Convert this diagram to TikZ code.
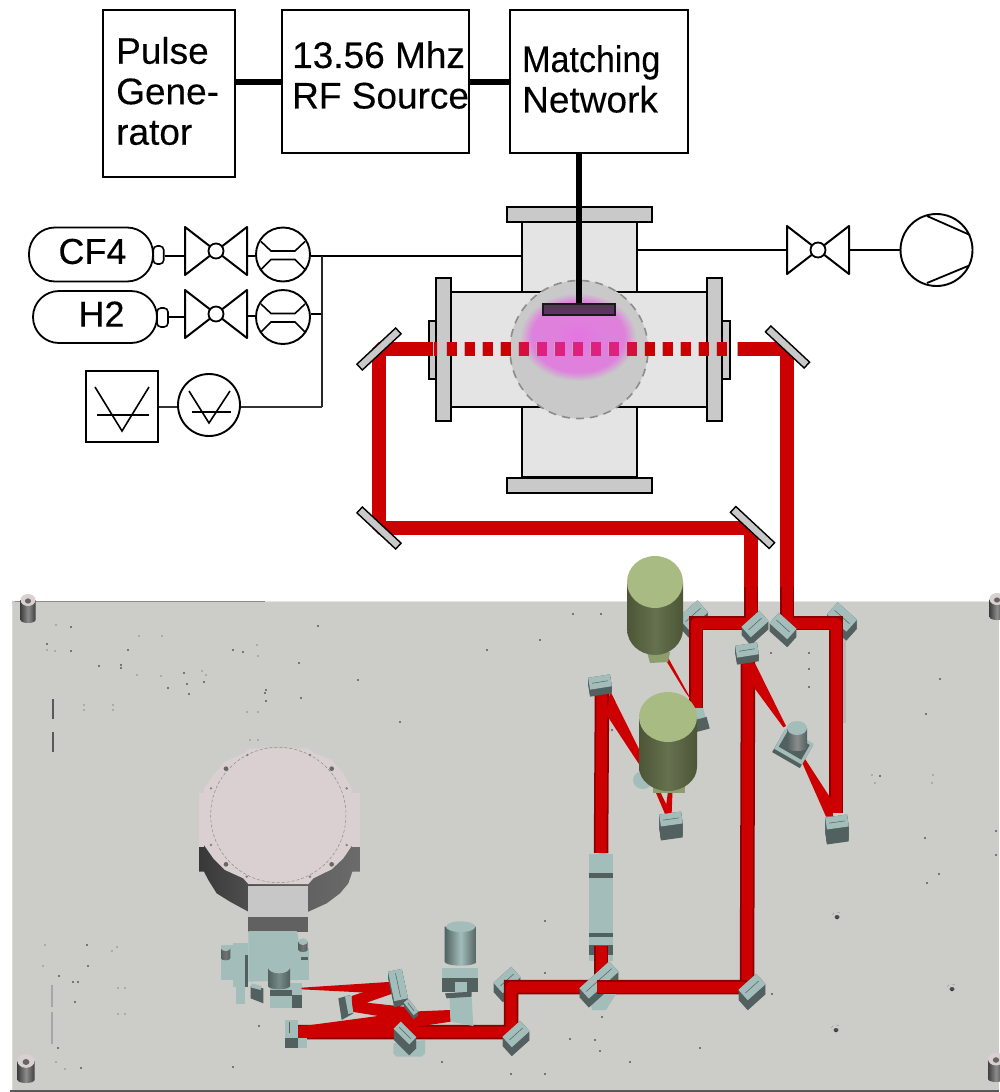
\documentclass[tikz,border=0pt]{standalone}
\usepackage{fontspec}
\usepackage{graphicx}
\setmainfont[FakeBold=0.25]{Liberation Sans}
\usetikzlibrary{calc}
\definecolor{beamred}{HTML}{CC0000}
\definecolor{beamdark}{HTML}{8A0000}
\definecolor{beampink}{HTML}{E0207F}
\definecolor{beamrose}{HTML}{D60F3C}
\definecolor{plate}{HTML}{CCCDC9}
\definecolor{chamberfill}{HTML}{E4E4E4}
\definecolor{flangefill}{HTML}{C9C9C9}
\definecolor{optlight}{HTML}{A3BDBB}
\definecolor{optdark}{HTML}{52615F}
\definecolor{pinktop}{HTML}{DAD0D1}
\definecolor{oliveT}{HTML}{A8BB82}
\definecolor{oliveD}{HTML}{4C5636}
\definecolor{oliveM}{HTML}{667150}
\definecolor{plasmaA}{HTML}{E574E2}
\definecolor{plasmaB}{HTML}{DF80DD}
\definecolor{elecA}{HTML}{4A3A4A}
\definecolor{elecB}{HTML}{6E2C78}
\pgfdeclareradialshading{plasmaglow}{\pgfpoint{0bp}{0bp}}{color(0bp)=(plasmaA);color(10bp)=(plasmaB);color(20bp)=(plasmaB);color(25bp)=(flangefill);color(50bp)=(flangefill)}
\tikzset{
  ln/.style={draw=black,line width=2pt,line join=round},
  wire/.style={draw=black,line width=2pt},
  thickwire/.style={draw=black,line width=6pt},
  labelbox/.style={draw=black,line width=1.7pt,fill=white,inner sep=0pt},
  labeltext/.style={inner sep=0pt,align=left,anchor=west,font=\fontsize{37}{40.5}\selectfont},
  gastext/.style={font=\fontsize{36}{38}\selectfont,inner sep=0pt},
  metalpart/.style={draw=black,line width=1.5pt,fill=chamberfill},
  flange/.style={draw=black,line width=1.8pt,fill=flangefill},
  mirrorbar/.style={draw=black,line width=1.4pt,fill=flangefill,minimum width=53pt,minimum height=8pt,inner sep=0pt},
  labbeam/.style={draw=beamred,line width=14pt,line join=bevel},
  tablebeam/.style={preaction={draw=beamdark,line width=14.5pt},draw=beamred,line width=11pt,line join=round},
  wedge/.style={fill=beamred},
  speck/.style={fill=black!65,opacity=.75},
  faint/.style={fill=black!45,opacity=.5},
  zz/.style={x=0.33333pt,y=-0.33333pt},
}
\newcommand{\valve}[4]{% name, x, y, half height
  \draw[ln,fill=white] (#2-31,#3-#4) -- (#2+31,#3+#4) -- (#2+31,#3-#4) -- (#2-31,#3+#4) -- cycle;
  \node[circle,draw=black,line width=1.8pt,fill=white,minimum size=15pt,inner sep=0pt] (#1) at (#2,#3) {};
}
\newcommand{\gauge}[3]{% name, x, y
  \node[circle,draw=black,line width=1.9pt,fill=white,minimum size=54pt,inner sep=0pt] (#1) at (#2,#3) {};
  \draw[line width=1.6pt] (#2-22,#3-13) -- (#2-12,#3-3.5) -- (#2+12,#3-3.5) -- (#2+22,#3-13);
  \draw[line width=1.6pt] (#2-22,#3+15) -- (#2-12,#3+5) -- (#2+12,#3+5) -- (#2+22,#3+15);
}
\newcommand{\mblock}[6]{% x,y,rot,halfw,halfh,depth
  \foreach \dd in {0,1,...,#6}{
    \begin{scope}[shift={(0,\dd)}]\fill[optdark,rotate around={#3:(#1,#2)}] (#1-#4,#2-#5) rectangle (#1+#4,#2+#5);\end{scope}}
  \fill[optlight,rotate around={#3:(#1,#2)}] (#1-#4,#2-#5) rectangle (#1+#4,#2+#5);
  \draw[optdark,line width=.5pt,rotate around={#3:(#1,#2)}] (#1-#4+3,#2) -- (#1+#4-3,#2);
}
\newcommand{\cyl}[7]{% cx, ytop, ybot, rx, ry, dark, mid
  \shade[left color=#6,right color=#6,middle color=#7]
   (#1-#4,#2) -- (#1-#4,#3) .. controls (#1-#4,#3+.55*#5) and (#1-.55*#4,#3+#5) .. (#1,#3+#5)
   .. controls (#1+.55*#4,#3+#5) and (#1+#4,#3+.55*#5) .. (#1+#4,#3) -- (#1+#4,#2) -- cycle;
}
\newcommand{\post}[4]{% x, ytop, ybot, r
  \cyl{#1}{#2}{#3}{#4}{3}{black!75}{black!45}
  \fill[pinktop] (#1,#2) ellipse[x radius=#4,y radius=#4*.8];
  \fill[black!60] (#1,#2+1) ellipse[x radius=#4*.4,y radius=#4*.35];
}
\newcommand{\screw}[2]{%
  \fill[black!70] (#1,#2) ellipse[x radius=2.5,y radius=2];
  \fill[blue!55!black] (#1,#2+1.7) circle[radius=.7];
  \draw[black!45,line width=.3pt,dashed] (#1-5,#2-2) .. controls (#1-3,#2-6) and (#1+3,#2-6) .. (#1+5,#2-2);
}
\begin{document}
\begin{tikzpicture}[x=1pt,y=-1pt]
\useasboundingbox (0,0) rectangle (999,1092);
%% ---------- optical table ----------
\fill[plate] (12,601) rectangle (999,1092);
\fill[black!15] (11.5,604) rectangle (13,1090);
\fill[black!45] (15,600.5) rectangle (265,602);
\fill[black!10] (265,600.5) rectangle (999,601.5);
\fill[black!65] (10,1090) rectangle (999,1092);
\post{28}{600}{620}{7.5}
\post{26}{1061}{1080}{8.5}
\post{997}{599}{617}{7.5}
\post{996}{1059}{1079}{8}
\fill[black!65] (52.2,699) rectangle (53.8,719);
\fill[black!65] (52.2,732) rectangle (53.8,752);
\fill[black!35] (51,985) rectangle (52.5,1007);
\fill[black!35] (51,1012) rectangle (52.5,1044);
\fill[black!28] (843,635) rectangle (845.5,723);
\foreach \sx/\sy in {71/627,71/651,47/644,128/650,99/666,121/665,121/668,184/673,187/684,204/682,168/688,189/694,233/650,243/652,299/663,318/626,265/693,266/690,301/698,266/701,59/976,73/982,78/982,75/1002,58/1048,81/1068,87/945,88/966,940/679,926/714,880/776,925/838,939/874,927/883,996/831,996/855,545/921,545/973,259/1026,233/1067,511/1074,545/1074,570/1039,595/1040,600/1051,602/1017,772/994,573/614,601/614,771/653,809/653,809/669,809/687,358/680,400/722,487/650,540/640,612/730,700/1048,630/1062,442/1062}
  {\fill[speck] (\sx-1,\sy-1) rectangle (\sx+1.2,\sy+1);}
\foreach \sx/\sy in {56/625,47/650,55/651,139/636,162/636,137/675,161/676,202/671,206/675,257/645,258/656,84/705,113/705,84/710,113/710,247/712,258/712,45/945,112/951,117/947,43/966,118/988,125/988,118/1014,125/1014,56/1062,65/1069,872/775,875/783,933/775,932/783,250/740,258/740}
  {\fill[faint] (\sx-.8,\sy-.7) rectangle (\sx+.8,\sy+.7);}
\screw{837}{917}
\screw{952}{989}
\screw{836}{1030}
%% ---------- vacuum chamber on the table ----------
\begin{scope}[shift={(180,730)},zz]
  \shade[left color=black!78,right color=black!58,middle color=black!64]
    (57,350) -- (57,425) -- (72,425) -- (85,450) -- (110,490) -- (150,515) -- (205,545) -- (385,545) -- (440,520) -- (480,490) -- (505,460) -- (517,425) -- (540,425) -- (540,350) -- (517,300) -- (72,300) -- cycle;
  \fill[pinktop] (57,190) -- (72,190) -- (72,352) -- (57,352) -- cycle;
  \fill[pinktop] (517,188) -- (540,188) -- (540,350) -- (517,350) -- cycle;
  \fill[pinktop] (210,55) -- (385,55) -- (400,68) -- (455,90) -- (490,130) -- (515,175) -- (517,345) -- (490,385) -- (455,418) -- (400,445) -- (385,462) -- (205,462) -- (190,445) -- (135,420) -- (100,385) -- (72,345) -- (72,175) -- (100,135) -- (135,95) -- (195,68) -- cycle;
  \draw[black!45,line width=.5pt,densely dashed] (295,255) circle[radius=203];
  \foreach \bx/\by in {138/116,455/116,138/403,455/403}{\fill[black!60] (\bx,\by) circle[radius=7];}
  \foreach \bx/\by in {93/175,500/175,93/345,500/345,202/75,390/75,200/440,390/440}{\fill[black!50] (\bx,\by) circle[radius=4];}
  \fill[black!22] (205,467) rectangle (385,562);
  \fill[black!62] (205,562) rectangle (385,605);
\end{scope}
%% ---------- parts below the beams, left group ----------
\begin{scope}[shift={(180,880)},zz]
  \fill[optlight] (205,153) -- (350,153) -- (355,170) -- (355,300) -- (205,305) -- cycle;
  \fill[optlight] (122,195) -- (160,195) -- (160,300) -- (122,300) -- cycle;
  \fill[optlight] (160,190) rectangle (203,320);
  \fill[optdark] (195,225) rectangle (205,320);
  \fill[optlight] (168,300) rectangle (195,372);
  \fill[optlight] (352,205) rectangle (388,300);
  \fill[optdark] (362,232) rectangle (385,240);
  \fill[optlight] (270,310) rectangle (365,385);
  \fill[optdark] (335,345) rectangle (365,385);
  \fill[optdark] (270,330) rectangle (335,348);
  \fill[optdark] (212,318) -- (250,325) -- (250,370) -- (212,355) -- cycle;
  \fill[optlight] (215,310) -- (245,318) -- (242,330) -- (212,322) -- cycle;
  \cyl{137}{205}{235}{14}{6}{optdark}{black!55}
  \fill[optlight] (137,205) ellipse[x radius=14,y radius=8];
  \cyl{369}{185}{210}{14}{6}{optdark}{black!55}
  \fill[optlight] (369,185) ellipse[x radius=14,y radius=10];
  \cyl{297}{265}{318}{33}{10}{optdark}{optlight!45!optdark}
  \fill[optlight] (297,262) ellipse[x radius=33,y radius=18];
\end{scope}
%% ---------- table beams ----------
\coordinate (tL) at (751,587);
\coordinate (tR) at (787,587);
\coordinate (cA) at (751,623);
\coordinate (cB) at (696,623);
\coordinate (cC) at (696,708);
\coordinate (cD) at (787,623);
\coordinate (cE) at (836,623);
\coordinate (cF) at (836,813);
\coordinate (cG) at (748,657);
\coordinate (cH) at (747,987);
\coordinate (cI) at (511,987);
\coordinate (cJ) at (511,1032);
\coordinate (cK) at (298,1032);
\coordinate (cL) at (602,690);
\coordinate (cM) at (601,853);
\coordinate (cN) at (601,946);
\coordinate (cO) at (601,985);
\mblock{693}{615}{42}{13}{8}{8}
\mblock{842}{617}{-42}{13}{8}{9}
\mblock{507}{980}{42}{12}{7}{9}
\fill[optlight,rotate around={15:(695,720)}] (691,707) rectangle (706,720);
\fill[optdark,rotate around={15:(695,720)}] (691,720) rectangle (707,732);
\draw[tablebeam] (tL) -- (cA) -- (cB) -- (cC);
\draw[tablebeam] (tR) -- (cD) -- (cE) -- (cF);
\draw[tablebeam] (cG) -- (cH) -- (cI) -- (cJ) -- (cK);
\draw[tablebeam] (cL) -- (cM);
\begin{scope}[shift={(570,540)},zz]
  \fill[wedge] (692,658) -- (702,652) -- (782,775) -- (790,830) -- (768,830) -- cycle;
  \fill[wedge] (548,370) -- (555,370) -- (648,558) -- (640,562) -- (550,440) -- cycle;
  \fill[wedge] (278,345) -- (290,345) -- (370,490) -- (345,455) -- cycle;
  \fill[wedge] (120,452) -- (305,825) -- (285,822) -- (250,740) -- (212,680) -- (110,525) -- cycle;
  \fill[wedge] (296,740) -- (308,740) -- (305,820) -- (285,820) -- cycle;
\end{scope}
\begin{scope}[shift={(180,880)},zz]
  \fill[wedge] (365,323) -- (640,305) -- (640,342) -- (365,328) -- cycle;
  \fill[wedge] (515,348) -- (635,308) -- (645,338) -- (560,368) -- (690,382) -- (700,407) -- (620,412) -- (515,395) -- cycle;
  \fill[wedge] (355,440) -- (690,395) -- (810,390) -- (812,425) -- (700,442) -- (355,478) -- cycle;
\end{scope}
%% ---------- long optical component ----------
\fill[optlight] (589,854) rectangle (613,961);
\fill[optdark] (589,873) rectangle (613,878);
\fill[optdark] (589,933) rectangle (613,937);
\fill[optdark] (589,945) rectangle (613,955);
\fill[optlight] (591,955) rectangle (611,960);
\draw[tablebeam] (cN) -- (cO);
%% ---------- mirror blocks ----------
\mblock{755}{624}{42}{12}{7}{8}
\mblock{783}{626}{-42}{12}{7}{8}
\mblock{747}{650}{9}{11}{6}{7}
\mblock{600}{682}{9}{11}{6}{7}
\mblock{671}{819}{8}{11}{6}{14}
\mblock{837}{822}{8}{11}{6}{15}
\mblock{516}{1034}{42}{12}{7}{9}
\fill[optlight] (590,1000) -- (620,988) -- (606,1010) -- (592,1010) -- cycle;
\mblock{599}{980}{42}{20}{7}{9}
\draw[tablebeam] (cH) -- (597,987);
\mblock{752}{987}{42}{12}{7}{10}
\begin{scope}[shift={(180,880)},zz]
  \fill[optdark] (315,420) rectangle (355,505);
  \fill[optlight] (315,420) rectangle (355,475);
  \fill[optlight] (355,475) rectangle (380,505);
  \fill[optdark] (326,425) rectangle (330,460);
  \fill[optlight] (640,490) -- (735,480) -- (735,520) -- (725,530) -- (650,530) -- (640,520) -- cycle;
  \fill[optdark] (475,355) -- (510,345) -- (520,400) -- (485,420) -- cycle;
  \fill[optlight] (495,350) -- (512,345) -- (520,398) -- (505,402) -- cycle;
\end{scope}
\mblock{398}{985}{-78}{15}{7}{6}
\mblock{411}{1007}{-52}{8}{3}{4}
\mblock{405}{1033}{-45}{11}{5}{11}
%% ---------- tall unit ----------
\begin{scope}[shift={(180,880)},zz]
  \cyl{842}{140}{245}{48}{12}{optdark}{optlight}
  \fill[optlight] (842,140) ellipse[x radius=44,y radius=16];
  \fill[optlight] (785,265) rectangle (895,295);
  \fill[optdark] (785,295) rectangle (895,335);
  \fill[optlight] (825,305) rectangle (860,345);
  \fill[optlight] (808,340) -- (875,352) -- (880,438) -- (812,425) -- cycle;
  \fill[optdark] (795,340) -- (875,335) -- (875,350) -- (800,355) -- cycle;
\end{scope}
%% ---------- unit on the right path ----------
\begin{scope}[shift={(793,748)},rotate=-30]
  \fill[optdark] (-16,-12) rectangle (16,14);
  \fill[optlight] (-16,-14) rectangle (16,10);
  \fill[optdark] (-13,-11) rectangle (13,6);
\end{scope}
\cyl{797}{728}{748}{10}{3}{optdark}{black!45}
\fill[optlight] (797,728) ellipse[x radius=10,y radius=7];
%% ---------- olive cylinders ----------
\fill[oliveT!70!oliveD] (647,652) -- (670,652) -- (668,662) -- (650,663) -- cycle;
\fill[optlight] (643,780) ellipse[x radius=10,y radius=9];
\cyl{655}{582}{629}{28}{26}{oliveD}{oliveM}
\fill[oliveT] (655,582) ellipse[x radius=28,y radius=26];
\fill[oliveT!70!oliveD] (653,785) rectangle (685,793);
\cyl{668}{717}{767}{29}{24}{oliveD}{oliveM}
\fill[oliveT] (668,717) ellipse[x radius=29,y radius=25];
%% ---------- block diagram ----------
\node[labelbox,minimum width=132pt,minimum height=167pt] (pulse) at (169,93.5) {};
\node[labelbox,minimum width=187pt,minimum height=143pt] (rfsrc) at (375.5,81.5) {};
\node[labelbox,minimum width=178pt,minimum height=143pt] (match) at (599,81.5) {};
\node[labeltext] (pulsetext) at (116,91) {Pulse\\Gene-\\rator};
\node[labeltext] (rftext) at (292,75) {13.56 Mhz\\RF Source};
\node[labeltext] (matchtext) at (522,79) {\scalebox{.92}[1]{Matching}\\Network};
\draw[thickwire] (pulse.east |- rfsrc.west) -- (rfsrc.west);
\draw[thickwire] (rfsrc.east) -- (match.west);
%% ---------- plasma chamber ----------
\fill[metalpart] (522,222) rectangle (637,477);
\fill[metalpart] (451,292) rectangle (707,407);
\fill[chamberfill] (523,293) rectangle (636,406);
\node[flange,minimum width=145pt,minimum height=15pt,inner sep=0pt] (ftop) at (579.5,214.5) {};
\node[flange,minimum width=145pt,minimum height=15pt,inner sep=0pt] (fbot) at (579.5,485.5) {};
\fill[flangefill,draw=black,line width=1.2pt] (429,321) rectangle (436,379);
\fill[flangefill,draw=black,line width=1.2pt] (722,321) rectangle (730,379);
\node[flange,minimum width=15pt,minimum height=143pt,inner sep=0pt] (fleft) at (443.5,349.5) {};
\node[flange,minimum width=15pt,minimum height=143pt,inner sep=0pt] (fright) at (714.5,349.5) {};
\node[circle,draw=black!45,line width=1.6pt,dash pattern=on 8pt off 6pt,fill=flangefill,minimum size=138pt,inner sep=0pt] (window) at (579,349.5) {};
\shade[shading=plasmaglow] (578,337) ellipse[x radius=58,y radius=44];
\node[draw=black!90,line width=1.2pt,top color=elecA,bottom color=elecB,minimum width=72pt,minimum height=11pt,inner sep=0pt] (electrode) at (579,309.5) {};
\draw[draw=black,line width=6.5pt] (match.south -| window.north) -- (electrode.north);
%% ---------- lab beam ----------
\coordinate (m1) at (379,349);
\coordinate (m2) at (787,349);
\coordinate (m3) at (379,528);
\coordinate (m4) at (751,528);
\draw[labbeam] (433,349) -- (m1) -- (m3) -- (m4) -- (tL);
\draw[labbeam] (738,349) -- (m2) -- (tR);
\foreach \k/\dcol in {0/beamred,1/beamred,2/beamred,3/beamred,4/beamrose,5/beampink,6/beampink,7/beampink,8/beampink,9/beampink,10/beamrose,11/beamred,12/beamred,13/beamred,14/beamred,15/beamred}{
  \pgfmathsetmacro{\dx}{447+18*\k}
  \fill[black!30] (\dx-.8,342) rectangle (\dx+10.2,356);
  \fill[\dcol] (\dx,342) rectangle (\dx+9.5,356);
}
\fill[black!30] (437,342) rectangle (437.8,356);
\fill[beamred] (433.5,342) rectangle (437,356);
\fill[black!30] (737.2,342) rectangle (738,356);
\node[mirrorbar,rotate=43] (mirA) at (m1) {};
\node[mirrorbar,rotate=-43] (mirB) at (787.5,347) {};
\node[mirrorbar,rotate=-43] (mirC) at (379,528) {};
\node[mirrorbar,rotate=-43] (mirD) at (752.5,527.5) {};
%% ---------- gas lines ----------
\node[draw=black,line width=1.8pt,rounded corners=26pt,fill=white,minimum width=124pt,minimum height=54pt,inner sep=0pt] (cfbottle) at (91,254.5) {};
\node[gastext] (cftext) at (92.5,251.5) {CF4};
\node[draw=black,line width=1.6pt,rounded corners=4pt,fill=white,minimum width=10.5pt,minimum height=18pt,inner sep=0pt] (cfneck) at (158.5,255) {};
\node[draw=black,line width=1.8pt,rounded corners=26pt,fill=white,minimum width=124pt,minimum height=52pt,inner sep=0pt] (hbottle) at (95,317) {};
\node[gastext] (htext) at (101.5,314) {H2};
\node[draw=black,line width=1.6pt,rounded corners=4pt,fill=white,minimum width=11pt,minimum height=19pt,inner sep=0pt] (hneck) at (162.5,317.5) {};
\valve{vcf}{216}{251}{24}
\valve{vh}{216}{314}{24}
\gauge{gcf}{283}{254.5}
\gauge{gh}{283}{317}
\coordinate (vcfL) at (185,256);
\coordinate (vcfR) at (247,256);
\coordinate (vhL) at (185,317);
\coordinate (vhR) at (247,316);
\coordinate (chamberL) at (522,256);
\coordinate (busTop) at (322,256);
\coordinate (busH) at (322,314);
\coordinate (busBot) at (322,406.5);
\draw[wire] (cfneck.east |- vcfL) -- (vcfL);
\draw[wire] (hneck.east |- vhL) -- (vhL);
\draw[wire] (vcfR) -- (gcf.west |- vcfR);
\draw[wire] (vhR) -- (gh.west |- vhR);
\draw[wire] (gcf.east |- chamberL) -- (chamberL);
\draw[wire] (gh.east |- busH) -- (busH);
\draw[wire,draw=black!85] (busTop) -- (busBot);
\node[draw=black,line width=2pt,fill=white,minimum width=72pt,minimum height=71pt,inner sep=0pt] (vbox) at (122,406.5) {};
\node[circle,draw=black,line width=1.9pt,fill=white,minimum size=62pt,inner sep=0pt] (vgauge) at (209,405) {};
\draw[wire,draw=black!80] (vbox.east |- busBot) -- (vgauge.west |- busBot);
\draw[wire,draw=black!80] (vgauge.east |- busBot) -- (busBot);
\draw[line width=1.6pt] (95,387) -- (122,431) -- (149,387);
\draw[line width=1.6pt] (97,415) -- (149,415);
\draw[line width=1.6pt] (189,391) -- (209,423) -- (230,391);
\draw[line width=1.6pt] (192,412) -- (231,412);
%% ---------- pump line ----------
\valve{vpump}{818}{250}{24}
\node[circle,draw=black,line width=1.9pt,fill=white,minimum size=72pt,inner sep=0pt] (pump) at (936.5,250) {};
\coordinate (chamberR) at (637,250);
\coordinate (vpL) at (787,250);
\coordinate (vpR) at (849,250);
\draw[draw=black,line width=1.5pt] (chamberR) -- (vpL);
\draw[draw=black,line width=1.5pt] (vpR) -- (pump.west);
\draw[line width=1.8pt] (927,216) -- (970,235);
\draw[line width=1.8pt] (927,283) -- (968,266);
\end{tikzpicture}
\end{document}
